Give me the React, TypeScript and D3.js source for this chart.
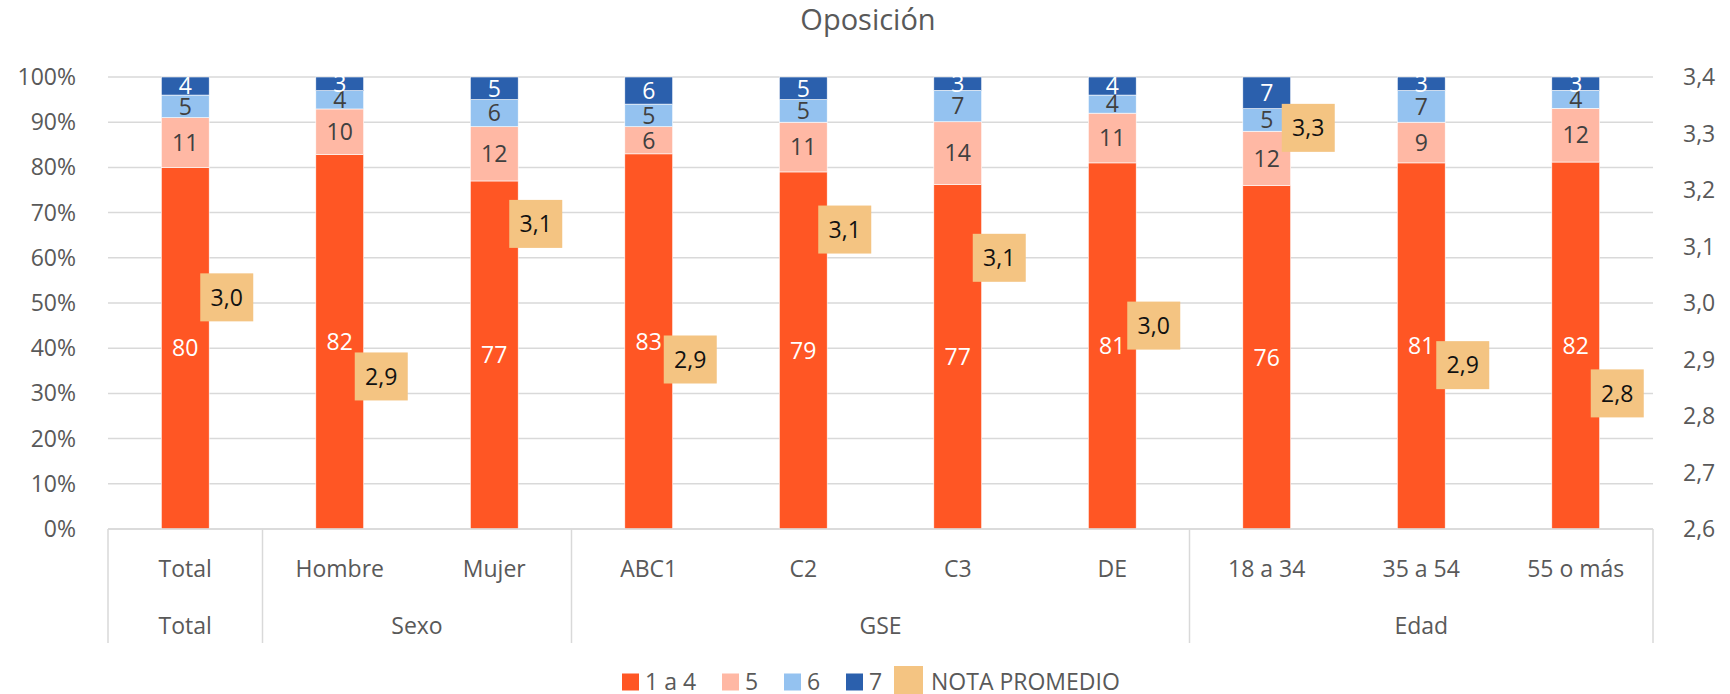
import React from "react";
import * as d3 from "d3";

const categories = ["Total", "Hombre", "Mujer", "ABC1", "C2", "C3", "DE", "18 a 34", "35 a 54", "55 o más"];
const groups = ["Total", "Sexo", "GSE", "Edad"];
const groupSizes = [1, 2, 4, 3];

const seriesNames = ["1 a 4", "5", "6", "7"];
const v1a4 = [80, 82, 77, 83, 79, 77, 81, 76, 81, 82];
const v5 = [11, 10, 12, 6, 11, 14, 11, 12, 9, 12];
const v6 = [5, 4, 6, 5, 5, 7, 4, 5, 7, 4];
const v7 = [4, 3, 5, 6, 5, 3, 4, 7, 3, 3];
const notaPromedio = [3.01, 2.87, 3.14, 2.9, 3.13, 3.08, 2.96, 3.31, 2.89, 2.84];

const leftTicks = [0, 0.1, 0.2, 0.3, 0.4, 0.5, 0.6, 0.7, 0.8, 0.9, 1];
const rightTicks = [2.6, 2.7, 2.8, 2.9, 3.0, 3.1, 3.2, 3.3, 3.4];

const colors = ["#FF5624", "#FFB8A4", "#94C2F0", "#2B60AD"];
const labelColors = ["#ffffff", "#404040", "#404040", "#ffffff"];
const notaColor = "#F4C482";

const FONT = "'Open Sans', sans-serif";
const GRAY = "#595959";

const App: React.FC = () => {
  const width = 1730;
  const height = 694;
  const margin = { top: 77, right: 77, bottom: 165, left: 108 };
  const innerBottom = height - margin.bottom;

  const x = d3
    .scaleBand()
    .domain(categories)
    .range([margin.left, width - margin.right])
    .paddingInner(0)
    .paddingOuter(0);
  const barW = x.bandwidth() * 0.31;

  const y = d3.scaleLinear().domain([0, 1]).range([innerBottom, margin.top]);
  const yR = d3.scaleLinear().domain([2.6, 3.4]).range([innerBottom, margin.top]);

  const rows = categories.map((c, i) => ({
    cat: c,
    "1 a 4": v1a4[i],
    "5": v5[i],
    "6": v6[i],
    "7": v7[i],
  }));
  const stack = d3
    .stack<any>()
    .keys(seriesNames)
    .offset(d3.stackOffsetExpand);
  const stacked = stack(rows);

  const comma = d3.formatLocale({
    decimal: ",",
    thousands: ".",
    grouping: [3],
    currency: ["$", ""],
  });
  const fmt1 = comma.format(".1f");
  const pct = d3.format(".0%");

  // group boundaries
  let acc = 0;
  const groupInfo = groups.map((g, i) => {
    const start = acc;
    acc += groupSizes[i];
    return { name: g, start, end: acc };
  });
  const bandStart = (i: number) => margin.left + i * x.bandwidth();
  const catBottom = 643;

  // legend
  const legendY = 682;
  const legendItems = [
    { name: "1 a 4", color: colors[0], x: 622 },
    { name: "5", color: colors[1], x: 722 },
    { name: "6", color: colors[2], x: 784 },
    { name: "7", color: colors[3], x: 846 },
  ];

  return (
    <svg width={width} height={height} style={{ display: "block", position: "absolute", left: 0, top: 0 }} fontFamily={FONT}>
      <rect width={width} height={height} fill="#ffffff" />
      <text x={868} y={30} textAnchor="middle" fontSize={29} fill={GRAY}>
        Oposición
      </text>

      {/* gridlines */}
      {leftTicks.map((t) => (
        <line
          key={"g" + t}
          x1={margin.left}
          x2={width - margin.right}
          y1={y(t)}
          y2={y(t)}
          stroke="#d9d9d9"
          strokeWidth={1.5}
        />
      ))}

      {/* left axis labels */}
      {leftTicks.map((t) => (
        <text key={"l" + t} x={76} y={y(t)} dy="0.35em" textAnchor="end" fontSize={23} fill={GRAY}>
          {pct(t)}
        </text>
      ))}
      {/* right axis labels */}
      {rightTicks.map((t) => (
        <text key={"r" + t} x={1683} y={yR(t)} dy="0.35em" textAnchor="start" fontSize={23} fill={GRAY}>
          {fmt1(t)}
        </text>
      ))}

      {/* bars */}
      {stacked.map((s, si) => (
        <g key={s.key}>
          {s.map((d, i) => (
            <rect
              key={i}
              x={(x(categories[i]) as number) + x.bandwidth() / 2 - barW / 2}
              y={y(d[1])}
              width={barW}
              height={y(d[0]) - y(d[1])}
              fill={colors[si]}
              stroke="#ffffff"
              strokeWidth={0.6}
            />
          ))}
        </g>
      ))}

      {/* bar labels */}
      {stacked.map((s, si) => (
        <g key={"lab" + s.key}>
          {s.map((d, i) => (
            <text
              key={i}
              x={(x(categories[i]) as number) + x.bandwidth() / 2}
              y={y((d[0] + d[1]) / 2)}
              dy="0.36em"
              textAnchor="middle"
              fontSize={23}
              fill={labelColors[si]}
            >
              {(d.data as any)[s.key]}
            </text>
          ))}
        </g>
      ))}

      {/* nota promedio labels */}
      {notaPromedio.map((v, i) => {
        const cx = (x(categories[i]) as number) + x.bandwidth() / 2;
        const cy = yR(v);
        return (
          <g key={"n" + i}>
            <rect x={cx + 15} y={cy - 24} width={53} height={48} fill={notaColor} />
            <text x={cx + 41.5} y={cy} dy="0.36em" textAnchor="middle" fontSize={23} fill="#111111">
              {fmt1(v)}
            </text>
          </g>
        );
      })}

      {/* category axis */}
      <line x1={margin.left} x2={width - margin.right} y1={innerBottom} y2={innerBottom} stroke="#d9d9d9" strokeWidth={1.5} />
      {[0, ...groupInfo.map((g) => g.end)].map((b, i) => (
        <line key={"sep" + i} x1={bandStart(b)} x2={bandStart(b)} y1={innerBottom} y2={catBottom} stroke="#d9d9d9" strokeWidth={1.5} />
      ))}
      {categories.map((c) => (
        <text key={"c" + c} x={(x(c) as number) + x.bandwidth() / 2} y={577} textAnchor="middle" fontSize={23} fill={GRAY}>
          {c}
        </text>
      ))}
      {groupInfo.map((g) => (
        <text key={"gr" + g.name} x={(bandStart(g.start) + bandStart(g.end)) / 2} y={634} textAnchor="middle" fontSize={23} fill={GRAY}>
          {g.name}
        </text>
      ))}

      {/* legend */}
      {legendItems.map((it) => (
        <g key={"lg" + it.name}>
          <rect x={it.x} y={legendY - 8.5} width={17} height={17} fill={it.color} />
          <text x={it.x + 23} y={legendY} dy="0.35em" fontSize={23} fill={GRAY}>
            {it.name}
          </text>
        </g>
      ))}
      <rect x={894} y={666} width={29} height={28} fill={notaColor} />
      <text x={931} y={legendY} dy="0.35em" fontSize={23} fill={GRAY}>
        NOTA PROMEDIO
      </text>
    </svg>
  );
};

export default App;
